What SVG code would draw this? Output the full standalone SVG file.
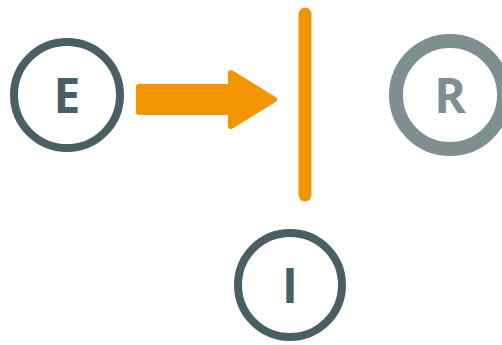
<svg xmlns="http://www.w3.org/2000/svg" width="502" height="345" viewBox="0 0 502 345">
  <style>
    .ring { fill: #ffffff; stroke-width: 8; }
    .dark { stroke: #485f65; }
    .light { stroke: #7e8f92; stroke-width: 14; }
    .lbl { font-family: "Open Sans", "Liberation Sans", sans-serif; font-weight: 700; font-size: 48px; text-anchor: middle; }
    .orange { fill: #f39500; stroke: #f39500; }
  </style>
  <rect width="502" height="345" fill="#ffffff"/>
  <g id="connectors">
    <path class="orange" d="M139,87 L231,87 L231,73 L274,99.5 L231,126 L231,112 L139,112 Z" stroke-width="6" stroke-linejoin="round"/>
    <line x1="305" y1="14" x2="305" y2="195" stroke="#f39500" stroke-width="13" stroke-linecap="round"/>
  </g>
  <g id="node-E">
    <circle class="ring dark" cx="67" cy="95" r="53"/>
    <text class="lbl" x="67" y="113" fill="#485f65">E</text>
  </g>
  <g id="node-R">
    <circle class="ring light" cx="450" cy="95" r="54"/>
    <text class="lbl" x="450" y="113" fill="#7e8f92">R</text>
  </g>
  <g id="node-I">
    <circle class="ring dark" cx="290" cy="285" r="52"/>
    <text class="lbl" x="290" y="303" fill="#485f65">I</text>
  </g>
</svg>
